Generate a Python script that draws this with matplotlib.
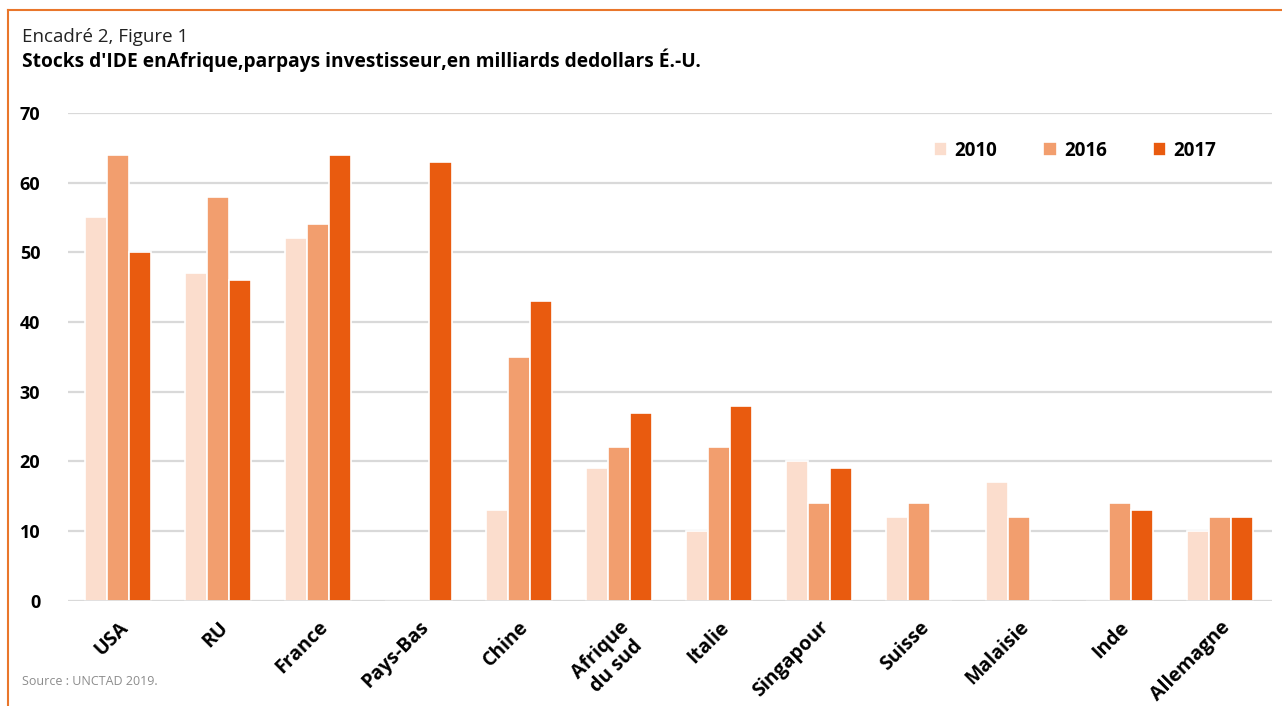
import numpy as np
import matplotlib.pyplot as plt
from matplotlib.lines import Line2D

plt.rcParams['font.family'] = ['Open Sans', 'DejaVu Sans']

pays = ['USA', 'RU', 'France', 'Pays-Bas', 'Chine', 'Afrique\ndu sud', 'Italie',
        'Singapour', 'Suisse', 'Malaisie', 'Inde', 'Allemagne']
v2010 = [55, 47, 52, 0, 13, 19, 10, 20, 12, 17, 0, 10]
v2016 = [64, 58, 54, 0, 35, 22, 22, 14, 14, 12, 14, 12]
v2017 = [50, 46, 64, 63, 43, 27, 28, 19, 0, 0, 13, 12]
annees = ['2010', '2016', '2017']
couleurs = ['#FBDDCD', '#F29E6E', '#E95B0F']

fig = plt.figure(figsize=(12.82, 7.06), dpi=100)
ax = fig.add_axes([0.053, 0.149, 0.939, 0.691])

x = np.arange(len(pays))
w = 0.22
for i, (vals, c, lab) in enumerate(zip([v2010, v2016, v2017], couleurs, annees)):
    ax.bar(x + (i - 1) * w, vals, width=w, color=c, edgecolor='white',
           linewidth=1.2, label=lab, zorder=3)

ax.set_xlim(-0.5, 11.52)
ax.set_ylim(0, 70)
ax.set_yticks(range(0, 71, 10))
ax.grid(axis='y', color='#D9D9D9', linewidth=1.6, zorder=0)
for s in ['top', 'right', 'left', 'bottom']:
    ax.spines[s].set_visible(False)
ax.axhline(0, color='#D9D9D9', linewidth=1.8, zorder=4)
ax.tick_params(axis='both', length=0)
ax.tick_params(axis='y', pad=20)
for t in ax.get_yticklabels():
    t.set_fontsize(13)
    t.set_fontweight('bold')

ax.set_xticks(x)
ax.set_xticklabels(pays, rotation=45, ha='right', va='top', rotation_mode='anchor',
                   fontsize=14, fontweight='bold', multialignment='center')
ax.tick_params(axis='x', pad=12)

leg = ax.legend(loc='upper right', bbox_to_anchor=(0.968, 0.978), ncol=3, frameon=False,
                prop={'weight': 'bold', 'size': 13.5}, handlelength=0.7,
                handleheight=0.7, handletextpad=0.4, columnspacing=2.45)

fig.text(0.017, 0.94, 'Encadré 2, Figure 1', fontsize=13.5, color='#222222')
fig.text(0.017, 0.905, "Stocks d'IDE enAfrique,parpays investisseur,en milliards dedollars É.-U.",
         fontsize=13.8, fontweight='bold', color='black')
fig.text(0.017, 0.03, 'Source : UNCTAD 2019.', fontsize=9, color='#8C8C8C')

# cadre orange
fig.add_artist(Line2D([0.0065, 0.0065], [0.0, 0.986], transform=fig.transFigure,
                      color='#E9762B', linewidth=1.5))
fig.add_artist(Line2D([0.0065, 1.0], [0.986, 0.986], transform=fig.transFigure,
                      color='#E9762B', linewidth=1.5))

fig.savefig('out.png', dpi=100)
